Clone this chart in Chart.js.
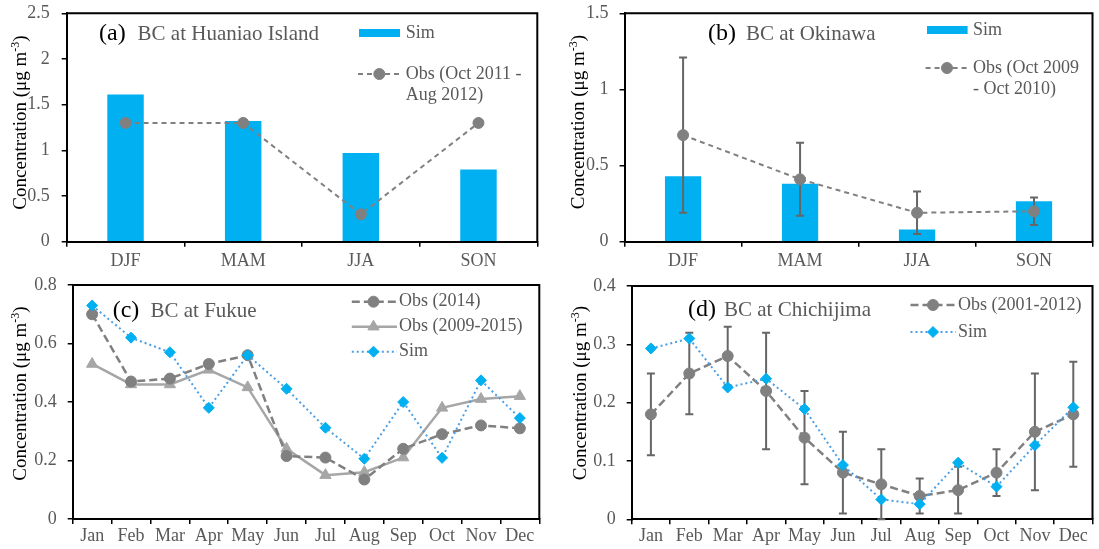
<!DOCTYPE html>
<html>
<head>
<meta charset="utf-8">
<script src="https://cdn.jsdelivr.net/npm/chart.js@4.4.0/dist/chart.umd.min.js"></script>
<style>
    html, body { margin: 0; padding: 0; background: #fff; }
    #wrap { position: relative; width: 1099px; height: 549px; overflow: hidden; }
    #wrap canvas { position: absolute; }
</style>
</head>
<body>
<div id="wrap">
    <canvas id="chartA" width="549" height="274" style="left:0px;top:0px"></canvas>
    <canvas id="chartB" width="550" height="274" style="left:549px;top:0px"></canvas>
    <canvas id="chartC" width="549" height="275" style="left:0px;top:274px"></canvas>
    <canvas id="chartD" width="550" height="275" style="left:549px;top:274px"></canvas>
</div>
<script>
const SEASONS = ['DJF', 'MAM', 'JJA', 'SON'];
const MONTHS = ['Jan', 'Feb', 'Mar', 'Apr', 'May', 'Jun', 'Jul', 'Aug', 'Sep', 'Oct', 'Nov', 'Dec'];

// (a) Huaniao Island, seasonal
const huaniaoSim = [1.61, 1.32, 0.97, 0.79];
const huaniaoObs = [1.3, 1.3, 0.3, 1.3];

// (b) Okinawa, seasonal with obs range
const okinawaSim = [0.43, 0.38, 0.08, 0.265];
const okinawaObs = [0.70, 0.41, 0.19, 0.20];
const okinawaObsLow = [0.19, 0.17, 0.05, 0.11];
const okinawaObsHigh = [1.21, 0.65, 0.33, 0.29];

// (c) Fukue, monthly
const fukueObs2014 = [0.70, 0.47, 0.48, 0.53, 0.56, 0.215, 0.21, 0.135, 0.24, 0.29, 0.32, 0.31];
const fukueObs0915 = [0.53, 0.46, 0.46, 0.51, 0.45, 0.24, 0.15, 0.16, 0.21, 0.38, 0.41, 0.42];
const fukueSim = [0.73, 0.62, 0.57, 0.38, 0.56, 0.445, 0.312, 0.206, 0.40, 0.209, 0.474, 0.345];

// (d) Chichijima, monthly with obs range
const chichiObs = [0.18, 0.25, 0.28, 0.22, 0.14, 0.08, 0.06, 0.04, 0.05, 0.08, 0.15, 0.18];
const chichiObsLow = [0.11, 0.18, 0.23, 0.12, 0.06, 0.01, 0.0, 0.01, 0.01, 0.04, 0.05, 0.09];
const chichiObsHigh = [0.25, 0.32, 0.33, 0.32, 0.22, 0.15, 0.12, 0.07, 0.09, 0.12, 0.25, 0.27];
const chichiSim = [0.293, 0.31, 0.226, 0.241, 0.189, 0.093, 0.034, 0.026, 0.097, 0.056, 0.127, 0.192];

const SERIF = "'Liberation Serif', 'Times New Roman', serif";
const SIM_BLUE = '#00B0F0';
const SIM_LINE = '#4A9FE6';
const OBS_GRAY = '#808080';
const OBS_LIGHT = '#A6A6A6';
const TEXT_GRAY = '#595959';

Chart.defaults.font.family = SERIF;
Chart.defaults.animation = false;

// top and right edges of the plot box
const framePlugin = {
    id: 'frame',
    beforeDatasetsDraw(chart) {
        const ctx = chart.ctx;
        const xs = chart.scales.x, ys = chart.scales.y;
        ctx.save();
        ctx.setLineDash([]);
        ctx.strokeStyle = '#000000';
        ctx.lineWidth = 2;
        ctx.beginPath();
        ctx.moveTo(xs.left, ys.top);
        ctx.lineTo(xs.right, ys.top);
        ctx.lineTo(xs.right, ys.bottom);
        ctx.stroke();
        ctx.restore();
    }
};

// draws the vertical obs range bars under the obs line
const errorBarPlugin = {
    id: 'errorBars',
    beforeDatasetDraw(chart, args) {
        const ds = chart.data.datasets[args.index];
        if (!ds.errLow) return;
        const ctx = chart.ctx;
        const yScale = chart.scales.y;
        ctx.save();
        ctx.strokeStyle = '#666666';
        ctx.lineWidth = 2;
        ctx.setLineDash([]);
        args.meta.data.forEach((pt, i) => {
            const yl = yScale.getPixelForValue(ds.errLow[i]);
            const yh = yScale.getPixelForValue(ds.errHigh[i]);
            ctx.beginPath();
            ctx.moveTo(pt.x, yl);
            ctx.lineTo(pt.x, yh);
            ctx.moveTo(pt.x - 4, yl);
            ctx.lineTo(pt.x + 4, yl);
            ctx.moveTo(pt.x - 4, yh);
            ctx.lineTo(pt.x + 4, yh);
            ctx.stroke();
        });
        ctx.restore();
    }
};

// axis title, panel title and legend (positions given in page pixels)
const decoPlugin = {
    id: 'deco',
    afterDraw(chart, args, opts) {
        const ctx = chart.ctx;
        ctx.save();
        ctx.translate(-opts.ox, -opts.oy);

        // y axis title with superscript
        ctx.save();
        ctx.translate(opts.yTitleX, opts.yTitleY);
        ctx.rotate(-Math.PI / 2);
        ctx.fillStyle = '#000';
        ctx.textBaseline = 'alphabetic';
        ctx.textAlign = 'left';
        const main = 'Concentration (\u03bcg m', sup = '-3', end = ')';
        ctx.font = '19px ' + SERIF;
        const w1 = ctx.measureText(main).width, w3 = ctx.measureText(end).width;
        ctx.font = '12px ' + SERIF;
        const w2 = ctx.measureText(sup).width;
        let x = -(w1 + w2 + w3) / 2;
        ctx.font = '19px ' + SERIF;
        ctx.fillText(main, x, 6);
        ctx.font = '12px ' + SERIF;
        ctx.fillText(sup, x + w1, -1);
        ctx.font = '19px ' + SERIF;
        ctx.fillText(end, x + w1 + w2, 6);
        ctx.restore();

        // panel title
        ctx.textBaseline = 'alphabetic';
        ctx.textAlign = 'left';
        ctx.fillStyle = '#000';
        ctx.font = '24px ' + SERIF;
        ctx.fillText(opts.tag, opts.tagX, opts.baseline);
        ctx.fillStyle = TEXT_GRAY;
        ctx.font = '21px ' + SERIF;
        ctx.fillText(opts.title, opts.titleX, opts.baseline);

        // legend
        ctx.font = '18px ' + SERIF;
        ctx.textBaseline = 'middle';
        opts.legend.forEach(item => {
            const ds = chart.data.datasets[item.ds];
            if (item.kind === 'box') {
                ctx.fillStyle = ds.backgroundColor;
                ctx.fillRect(item.x1, item.y - 4, item.x2 - item.x1, 8);
            } else {
                ctx.save();
                ctx.strokeStyle = ds.borderColor;
                ctx.lineWidth = ds.borderWidth;
                ctx.setLineDash(ds.borderDash || []);
                ctx.beginPath();
                ctx.moveTo(item.x1, item.y);
                ctx.lineTo(item.x2, item.y);
                ctx.stroke();
                ctx.setLineDash([]);
                ctx.fillStyle = ds.pointBackgroundColor;
                ctx.strokeStyle = ds.pointBorderColor;
                ctx.lineWidth = 1;
                Chart.helpers.drawPoint(ctx, {
                    pointStyle: ds.pointStyle, radius: ds.pointRadius, rotation: 0, borderWidth: 1
                }, item.mx, item.y);
                ctx.restore();
            }
            ctx.fillStyle = TEXT_GRAY;
            item.text.forEach((line, i) => ctx.fillText(line, item.tx, item.y + i * 21));
        });
        ctx.restore();
    }
};

function tickText(value) {
    return String(Number(value.toFixed(3)));
}

function noPad(s) {
    s.paddingTop = 0;
    s.paddingBottom = 0;
    s.paddingLeft = 0;
    s.paddingRight = 0;
}

function buildScales(box, labels, yMax, yStep, yPad, xPad) {
    return {
        x: {
            type: 'category',
            labels: labels,
            offset: true,
            grid: { offset: true, drawOnChartArea: false, tickLength: 5, color: '#000', lineWidth: 1.5 },
            border: { color: '#000', width: 2 },
            ticks: { color: TEXT_GRAY, font: { size: 18 }, padding: xPad, maxRotation: 0, autoSkip: false },
            afterFit: s => { s.height = box.xh; noPad(s); }
        },
        y: {
            min: 0,
            max: yMax,
            grid: { drawOnChartArea: false, tickLength: 5, color: '#000', lineWidth: 1.5 },
            border: { color: '#000', width: 2 },
            ticks: { stepSize: yStep, color: TEXT_GRAY, font: { size: 18 }, padding: yPad, callback: tickText },
            afterFit: s => { s.width = box.l - box.left0; noPad(s); }
        }
    };
}

// box values are page pixels, the canvas sits at (ox, oy) with size w x h
function buildLayout(box) {
    return {
        padding: {
            left: box.left0 - box.ox,
            right: box.ox + box.w - box.r,
            top: box.t - box.oy,
            bottom: box.oy + box.h - box.b - box.xh
        }
    };
}

function obsLine(label, data, width, dash, extra) {
    return Object.assign({
        type: 'line',
        label: label,
        data: data,
        borderColor: OBS_GRAY,
        borderWidth: width,
        borderDash: dash,
        backgroundColor: OBS_GRAY,
        pointStyle: 'circle',
        pointRadius: 5.5,
        pointBackgroundColor: OBS_GRAY,
        pointBorderColor: OBS_GRAY,
        pointBorderWidth: 1,
        tension: 0,
        clip: false,
        order: 1
    }, extra || {});
}

function simLine(data) {
    return {
        type: 'line',
        label: 'Sim',
        data: data,
        borderColor: SIM_LINE,
        borderWidth: 2,
        borderDash: [2, 3],
        backgroundColor: SIM_BLUE,
        pointStyle: 'rectRot',
        pointRadius: 5.5,
        pointBackgroundColor: SIM_BLUE,
        pointBorderColor: SIM_BLUE,
        pointBorderWidth: 1,
        tension: 0,
        clip: false,
        order: 0
    };
}

function simBars(data) {
    return {
        type: 'bar',
        label: 'Sim',
        data: data,
        backgroundColor: SIM_BLUE,
        borderWidth: 0,
        barPercentage: 0.31,
        categoryPercentage: 1.0,
        order: 2
    };
}

function baseOptions(box, scales, deco) {
    deco.ox = box.ox;
    deco.oy = box.oy;
    return {
        responsive: false,
        maintainAspectRatio: false,
        animation: false,
        layout: buildLayout(box),
        scales: scales,
        plugins: {
            legend: { display: false },
            tooltip: { enabled: false },
            deco: deco
        }
    };
}

// BEGIN CHART A
const boxA = { ox: 0, oy: 0, w: 549, h: 274, left0: 0, l: 66.7, r: 537.3, t: 13.3, b: 241.7, xh: 30 };
const chartA = new Chart(document.getElementById('chartA'), {
    type: 'bar',
    data: {
        labels: SEASONS,
        datasets: [
            simBars(huaniaoSim),
            obsLine('Obs (Oct 2011 - Aug 2012)', huaniaoObs, 2, [5, 4])
        ]
    },
    options: baseOptions(boxA, buildScales(boxA, SEASONS, 2.5, 0.5, 12, 4), {
        yTitleX: 20, yTitleY: 122.5, tag: '(a)', tagX: 99, title: 'BC at Huaniao Island', titleX: 137.6, baseline: 40,
        legend: [
            { ds: 0, kind: 'box', x1: 359, x2: 400, y: 33, tx: 405.7, text: ['Sim'] },
            { ds: 1, kind: 'line', x1: 358, x2: 402, mx: 379.3, y: 74, tx: 405.7, text: ['Obs (Oct 2011 -', 'Aug 2012)'] }
        ]
    }),
    plugins: [framePlugin, errorBarPlugin, decoPlugin]
});
// END CHART A

// BEGIN CHART B
const boxB = { ox: 549, oy: 0, w: 550, h: 274, left0: 558.6, l: 624.6, r: 1096, t: 13.3, b: 241.7, xh: 30 };
const chartB = new Chart(document.getElementById('chartB'), {
    type: 'bar',
    data: {
        labels: SEASONS,
        datasets: [
            simBars(okinawaSim),
            obsLine('Obs (Oct 2009 - Oct 2010)', okinawaObs, 2, [5, 4], { errLow: okinawaObsLow, errHigh: okinawaObsHigh })
        ]
    },
    options: baseOptions(boxB, buildScales(boxB, SEASONS, 1.5, 0.5, 11, 4), {
        yTitleX: 578.4, yTitleY: 122, tag: '(b)', tagX: 708, title: 'BC at Okinawa', titleX: 746, baseline: 40,
        legend: [
            { ds: 0, kind: 'box', x1: 927, x2: 967.6, y: 30, tx: 973, text: ['Sim'] },
            { ds: 1, kind: 'line', x1: 925.6, x2: 969, mx: 947, y: 68, tx: 973, text: ['Obs (Oct 2009', '- Oct 2010)'] }
        ]
    }),
    plugins: [framePlugin, errorBarPlugin, decoPlugin]
});
// END CHART B

// BEGIN CHART C
const boxC = { ox: 0, oy: 274, w: 549, h: 275, left0: 0, l: 72.7, r: 539.3, t: 285, b: 519, xh: 28 };
const chartC = new Chart(document.getElementById('chartC'), {
    type: 'line',
    data: {
        labels: MONTHS,
        datasets: [
            obsLine('Obs (2014)', fukueObs2014, 2.5, [8, 4], { order: 1 }),
            obsLine('Obs (2009-2015)', fukueObs0915, 2.5, [], {
                borderColor: OBS_LIGHT, backgroundColor: OBS_LIGHT, pointStyle: 'triangle', pointRadius: 6.5,
                pointBackgroundColor: OBS_LIGHT, pointBorderColor: OBS_LIGHT, order: 2
            }),
            simLine(fukueSim)
        ]
    },
    options: baseOptions(boxC, buildScales(boxC, MONTHS, 0.8, 0.2, 11, 1), {
        yTitleX: 20, yTitleY: 393.5, tag: '(c)', tagX: 112.7, title: 'BC at Fukue', titleX: 150.5, baseline: 316.5,
        legend: [
            { ds: 0, kind: 'line', x1: 351.8, x2: 397, mx: 373.5, y: 301.7, tx: 399, text: ['Obs (2014)'] },
            { ds: 1, kind: 'line', x1: 351.8, x2: 397, mx: 373.5, y: 326.7, tx: 399, text: ['Obs (2009-2015)'] },
            { ds: 2, kind: 'line', x1: 351.8, x2: 397, mx: 373.5, y: 351.7, tx: 399, text: ['Sim'] }
        ]
    }),
    plugins: [framePlugin, errorBarPlugin, decoPlugin]
});
// END CHART C

// BEGIN CHART D
const boxD = { ox: 549, oy: 274, w: 550, h: 275, left0: 560, l: 631.7, r: 1097.5, t: 286, b: 519.3, xh: 28 };
const chartD = new Chart(document.getElementById('chartD'), {
    type: 'line',
    data: {
        labels: MONTHS,
        datasets: [
            obsLine('Obs (2001-2012)', chichiObs, 2.5, [8, 4], { errLow: chichiObsLow, errHigh: chichiObsHigh }),
            simLine(chichiSim)
        ]
    },
    options: baseOptions(boxD, buildScales(boxD, MONTHS, 0.4, 0.1, 11, 1), {
        yTitleX: 579.7, yTitleY: 393, tag: '(d)', tagX: 688, title: 'BC at Chichijima', titleX: 724, baseline: 315.7,
        legend: [
            { ds: 0, kind: 'line', x1: 910.5, x2: 956, mx: 933, y: 305, tx: 958, text: ['Obs (2001-2012)'] },
            { ds: 1, kind: 'line', x1: 910.5, x2: 956, mx: 933, y: 332, tx: 958, text: ['Sim'] }
        ]
    }),
    plugins: [framePlugin, errorBarPlugin, decoPlugin]
});
// END CHART D
</script>
</body>
</html>
